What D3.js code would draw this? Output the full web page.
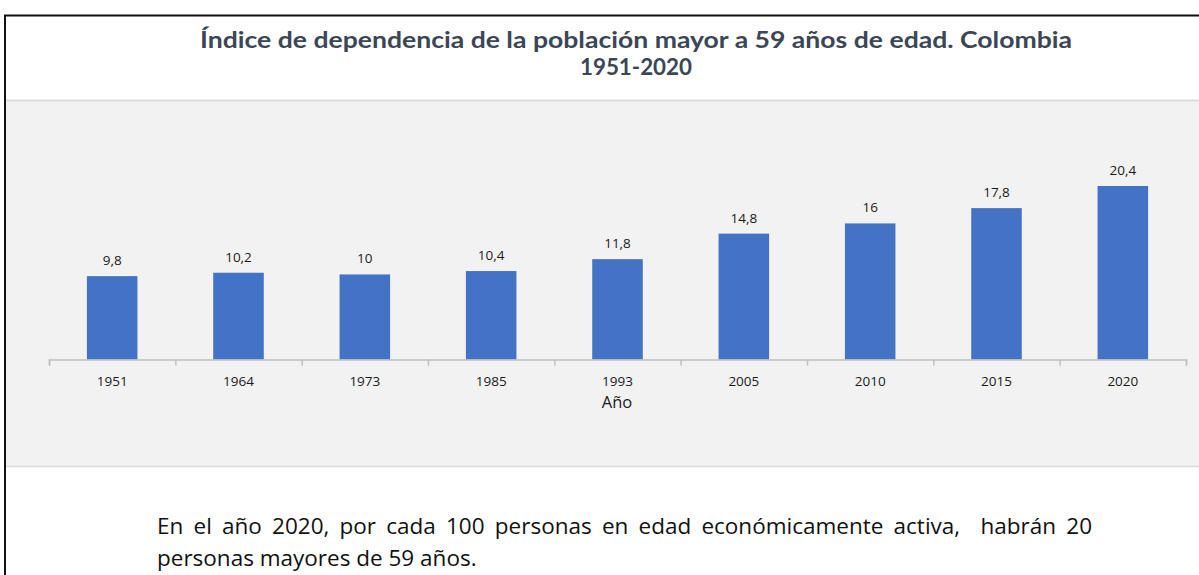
<!DOCTYPE html>
<html><head><meta charset="utf-8">
<script src="https://cdn.jsdelivr.net/npm/d3@7"></script>
<style>body{margin:0;background:#fff;}svg{display:block;}</style>
</head><body>
<svg id="c" width="1199" height="575"></svg>
<script>
const categories = ["1951","1964","1973","1985","1993","2005","2010","2015","2020"];
const values = [9.8,10.2,10,10.4,11.8,14.8,16,17.8,20.4];
const valueLabels = ["9,8","10,2","10","10,4","11,8","14,8","16","17,8","20,4"];
const titleLines = ["Índice de dependencia de la población mayor a 59 años de edad. Colombia","1951-2020"];
const xTitle = "Año";
const noteLines = ["En el año 2020, por cada 100 personas en edad económicamente activa,  habrán 20","personas mayores de 59 años."];

const svg = d3.select("#c");
// grey panel
svg.append("rect").attr("x",6).attr("y",100).attr("width",1193).attr("height",366).attr("fill","#f2f2f2");
svg.append("line").attr("x1",6).attr("x2",1199).attr("y1",100.5).attr("y2",100.5).attr("stroke","#dcdcdc").attr("stroke-width",2);
svg.append("line").attr("x1",6).attr("x2",1199).attr("y1",466.5).attr("y2",466.5).attr("stroke","#dcdcdc").attr("stroke-width",1.5);
// frame
svg.append("line").attr("x1",4).attr("x2",1199).attr("y1",15.5).attr("y2",15.5).attr("stroke","#111").attr("stroke-width",2);
svg.append("line").attr("x1",5).attr("x2",5).attr("y1",15).attr("y2",575).attr("stroke","#111").attr("stroke-width",2);

// title
const titleWidths = [872, 112];
svg.append("g").selectAll("text").data(titleLines).join("text")
  .attr("x",636).attr("y",(d,i)=>48+i*26.5).attr("text-anchor","middle")
  .attr("font-family","Lato, 'Open Sans', sans-serif").attr("font-weight","bold")
  .attr("font-size",22.5).attr("fill","#3b4656")
  .attr("textLength",(d,i)=>titleWidths[i]).attr("lengthAdjust","spacingAndGlyphs").text(d=>d);

const x = d3.scaleBand().domain(categories).range([49,1186]).paddingInner(0.6).paddingOuter(0.3);
const y = d3.scaleLinear().domain([0,20.4]).range([359.5,186]);

svg.append("g").selectAll("rect").data(values).join("rect")
  .attr("x",(d,i)=>x(categories[i])).attr("width",x.bandwidth())
  .attr("y",d=>y(d)).attr("height",d=>y(0)-y(d)).attr("fill","#4472c4");

svg.append("g").selectAll("text").data(values).join("text")
  .attr("x",(d,i)=>x(categories[i])+x.bandwidth()/2).attr("y",d=>y(d)-11)
  .attr("text-anchor","middle").attr("font-family","'Open Sans', sans-serif")
  .attr("font-size",13.5).attr("fill","#1a1a1a").text((d,i)=>valueLabels[i]);

// axis with boundary ticks
const xb = d3.scaleLinear().domain([0,categories.length]).range([49,1186]);
const axis = svg.append("g").attr("transform","translate(0,359.5)")
  .call(d3.axisBottom(xb).tickValues(d3.range(categories.length+1)).tickSize(6).tickSizeOuter(6).tickFormat(""));
axis.select(".domain").attr("stroke","#bfbfbf").attr("stroke-width",1.5);
axis.selectAll(".tick line").attr("stroke","#bfbfbf").attr("stroke-width",1.5);

svg.append("g").selectAll("text").data(categories).join("text")
  .attr("x",d=>x(d)+x.bandwidth()/2).attr("y",386).attr("text-anchor","middle")
  .attr("font-family","'Open Sans', sans-serif").attr("font-size",13.5).attr("fill","#1a1a1a").text(d=>d);

svg.append("text").attr("x",617).attr("y",408).attr("text-anchor","middle")
  .attr("font-family","'Open Sans', sans-serif").attr("font-size",16.5).attr("fill","#1a1a1a").text(xTitle);

// note text, first line justified via word spacing
const noteWidths = [935, null];
const notes = svg.append("g").selectAll("text").data(noteLines).join("text")
  .attr("x",157).attr("y",(d,i)=>534+i*32)
  .attr("font-family","'Open Sans', sans-serif").attr("font-size",22.5).attr("fill","#111")
  .attr("xml:space","preserve").style("white-space","pre").text(d=>d);
notes.each(function(d,i){
  if(!noteWidths[i]) return;
  const natural = this.getComputedTextLength();
  const spaces = (d.match(/ /g)||[]).length;
  this.setAttribute("word-spacing", ((noteWidths[i]-natural)/spaces).toFixed(2));
});
</script>
</body></html>
